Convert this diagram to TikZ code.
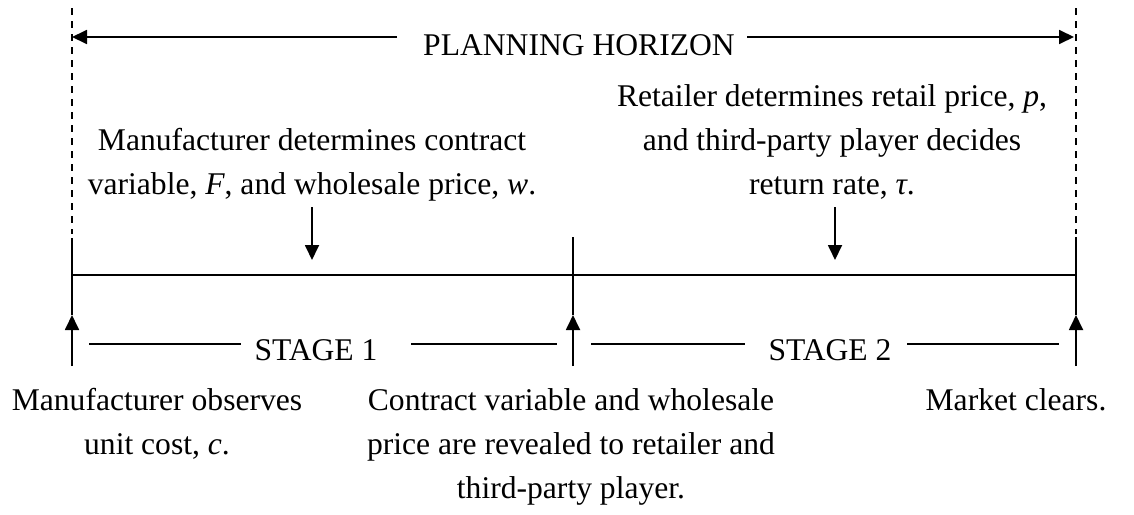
\documentclass[tikz,border=0pt]{standalone}
\usepackage{fontspec}
\setmainfont{Liberation Serif}
\usetikzlibrary{arrows.meta}
\begin{document}
\begin{tikzpicture}[x=1pt, y=-1pt, line width=1.8pt,
  lbl/.style={font=\fontsize{31.6}{44}\selectfont, inner sep=0pt, align=center, anchor=base},
  tip/.style={-{Triangle[length=15pt,width=14pt]}},
  bound/.style={dash pattern=on 7pt off 6pt},
]
\useasboundingbox (0,0) rectangle (1134,514);

% time points on the main line
\coordinate (t0) at (72,275);
\coordinate (t1) at (573,275);
\coordinate (t2) at (1076,275);

% horizon boundaries
\coordinate (h0top) at (72,8);   \coordinate (h0bot) at (72,234);
\coordinate (h2top) at (1076,8); \coordinate (h2bot) at (1076,234);
\draw[bound] (h0top) -- (h0bot);
\draw[bound] (h2top) -- (h2bot);

% planning horizon arrow
\node[lbl] (ph) at (579,55) {PLANNING HORIZON};
\coordinate (pha) at (397,37); \coordinate (phb) at (747,37);
\coordinate (phl) at (72,37);  \coordinate (phr) at (1074,37);
\draw[tip] (pha) -- (phl);
\draw[tip] (phb) -- (phr);

% main time line
\draw (t0) -- (t2);

% vertical ticks and upward arrows
\coordinate (v0top) at (72,238);   \coordinate (v0tip) at (72,315);   \coordinate (v0bot) at (72,366);
\coordinate (v1top) at (573,237);  \coordinate (v1tip) at (573,315);  \coordinate (v1bot) at (573,366);
\coordinate (v2top) at (1076,237); \coordinate (v2tip) at (1076,315); \coordinate (v2bot) at (1076,366);
\draw (v0top) -- (v0tip);
\draw (v1top) -- (v1tip);
\draw (v2top) -- (v2tip);
\draw[tip] (v0bot) -- (v0tip);
\draw[tip] (v1bot) -- (v1tip);
\draw[tip] (v2bot) -- (v2tip);

% decisions (a node's base is its last line)
\node[lbl] (dec1) at (312,194) {Manufacturer determines contract\\variable, \textit{F}, and wholesale price, \textit{w}.};
\node[lbl] (dec2) at (832,194) {Retailer determines retail price, \textit{p},\\and third-party player decides\\return rate, \textit{τ}.};
\coordinate (d1s) at (312,207); \coordinate (d1e) at (312,260);
\coordinate (d2s) at (835,207); \coordinate (d2e) at (835,260);
\draw[tip] (d1s) -- (d1e);
\draw[tip] (d2s) -- (d2e);

% stages
\node[lbl] (s1) at (316,360) {STAGE 1};
\node[lbl] (s2) at (830,360) {STAGE 2};
\coordinate (s1a) at (89,344);  \coordinate (s1b) at (241,344);
\coordinate (s1c) at (411,344); \coordinate (s1d) at (557,344);
\coordinate (s2a) at (591,344); \coordinate (s2b) at (745,344);
\coordinate (s2c) at (907,344); \coordinate (s2d) at (1059,344);
\draw (s1a) -- (s1b);
\draw (s1c) -- (s1d);
\draw (s2a) -- (s2b);
\draw (s2c) -- (s2d);

% events
\node[lbl] (e0) at (157,454) {Manufacturer observes\\unit cost, \textit{c}.};
\node[lbl] (e1) at (571,498) {Contract variable and wholesale\\price are revealed to retailer and\\third-party player.};
\node[lbl] (e2) at (1016,410) {Market clears.};
\end{tikzpicture}
\end{document}
